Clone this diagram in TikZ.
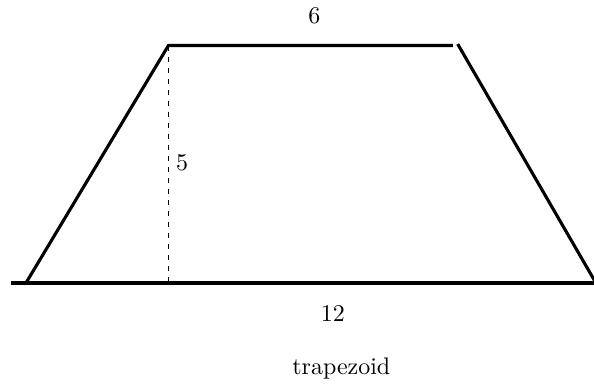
\documentclass[tikz,border=0pt]{standalone}
\usepackage{amsmath}
\usepackage{tikz}
\begin{document}
\begin{tikzpicture}[x=0.696cm, y=0.696cm, >=stealth]
\useasboundingbox (-0.547,-2.147) rectangle (11.96,5.958);

% vertices
\coordinate (A) at (0,0);
\coordinate (B) at (12,0);
\coordinate (D) at (3,5);
\coordinate (C) at (8.99,5);
\coordinate (Cr) at (9.09,5.03);
\coordinate (F) at (3,0);
\coordinate (L) at (-0.316,0);

% base line
\draw[line width=1.3pt] (L) -- (B);

% sides and top
\draw[line width=1.3pt] (A) -- (D) -- (C);
\draw[line width=1.3pt] (Cr) -- (B);

% height (dashed)
\draw[dash pattern=on 2.2pt off 2.4pt, line width=0.8pt] (D) -- (F);

% labels
\node (top) at (6.07,5.62) {6};
\node (height) at (3.29,2.52) {5};
\node (base) at (6.46,-0.64) {12};
\node (name) at (6.64,-1.81) {trapezoid};

\end{tikzpicture}
\end{document}
